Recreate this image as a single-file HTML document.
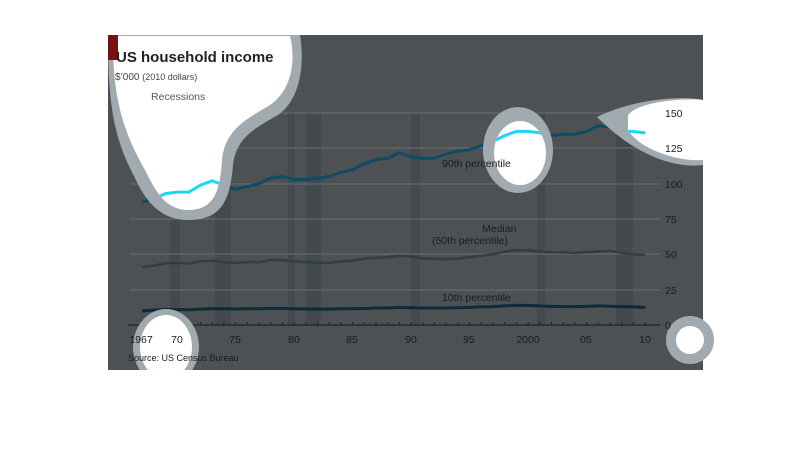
<!DOCTYPE html>
<html><head><meta charset="utf-8"><style>
html,body{margin:0;padding:0;background:#fff;}
svg{display:block;font-family:"Liberation Sans",sans-serif;}
</style></head><body>
<svg width="810" height="464" viewBox="0 0 810 464">
<defs>
<clipPath id="chart"><rect x="108" y="35" width="595" height="335"/></clipPath>
<clipPath id="blobs">
<path d="M113 36 L290 36 C296 60 292 90 270 105 C245 120 225 130 222 160 C220 190 215 210 188 210 C165 210 155 190 145 170 C125 135 112 100 113 36 Z"/>
<ellipse cx="520" cy="153" rx="26" ry="32"/>
<path d="M628 115 C640 100 690 98 703 100 L703 160 C680 162 640 150 628 130 Z"/>
<ellipse cx="166" cy="347" rx="26" ry="32"/>
</clipPath>
<g id="series">
<polyline vector-effect="non-scaling-stroke" points="0,87 1,89 2,93 3,94 4,94 5,99 6,102 7,99 8,96 9,98 10,100 11,104 12,105 13,103 14,103 15,104 16,105 17,108 18,110 19,114 20,117 21,118 22,122 23,119 24,118 25,118 26,121 27,123 28,124 29,127 30,130 31,134 32,137 33,137 34,136 35,134 36,135 37,135 38,137 39,141 40,140 41,137 42,137 43,136"/>
</g>
</defs>
<g clip-path="url(#chart)">
<rect x="108" y="35" width="595" height="335" fill="#4d5154"/>
<g fill="#424a50">
<rect x="170" y="113" width="10" height="212"/>
<rect x="215" y="113" width="16" height="212"/>
<rect x="288" y="113" width="7" height="212"/>
<rect x="306" y="113" width="15" height="212"/>
<rect x="411" y="113" width="9" height="212"/>
<rect x="537" y="113" width="8" height="212"/>
<rect x="616" y="113" width="17" height="212"/>
</g>
<g stroke="#6a6e70" stroke-width="1">
<line x1="130" y1="113" x2="660" y2="113"/>
<line x1="130" y1="148" x2="660" y2="148"/>
<line x1="130" y1="184" x2="660" y2="184"/>
<line x1="130" y1="219" x2="660" y2="219"/>
<line x1="130" y1="254" x2="660" y2="254"/>
<line x1="130" y1="290" x2="660" y2="290"/>
</g>
<line x1="128" y1="325" x2="660" y2="325" stroke="#222" stroke-width="1.2"/>
<g stroke="#222" stroke-width="1">
<path d="M142 325v-5M153.7 325v-3M165.4 325v-3M177.1 325v-3M188.8 325v-3M200.5 325v-3M212.2 325v-3M223.9 325v-3M235.6 325v-3M247.3 325v-3M259 325v-3M270.7 325v-3M282.4 325v-3M294.1 325v-3M305.8 325v-3M317.5 325v-3M329.2 325v-3M340.9 325v-3M352.6 325v-3M364.3 325v-3M376 325v-3M387.7 325v-3M399.4 325v-3M411.1 325v-3M422.8 325v-3M434.5 325v-3M446.2 325v-3M457.9 325v-3M469.6 325v-3M481.3 325v-3M493 325v-3M504.7 325v-3M516.4 325v-3M528.1 325v-3M539.8 325v-3M551.5 325v-3M563.2 325v-3M574.9 325v-3M586.6 325v-3M598.3 325v-3M610 325v-3M621.7 325v-3M633.4 325v-3M645.1 325v-3"/>
</g>
<g transform="translate(142 325) scale(11.7 -1.413)" fill="none" stroke-linejoin="round">
<use href="#series" stroke="#0f4a66" stroke-width="3"/>
<polyline vector-effect="non-scaling-stroke" stroke="#333d42" stroke-width="2.5" points="0,41 1,42 2,43.5 3,44 4,43.5 5,45 6,45.5 7,44.5 8,44 9,44.5 10,44.5 11,46 12,46 13,45 14,44.5 15,44 16,44 17,45 18,45.5 19,47 20,47.5 21,48 22,49 23,48.5 24,47 25,47 26,46.5 27,47 28,48 29,49 30,50 31,52 32,53 33,53 34,52 35,51.5 36,51.5 37,51 38,51.5 39,52 40,52.5 41,51 42,50 43,49.5"/>
<polyline vector-effect="non-scaling-stroke" stroke="#0c2a38" stroke-width="3" points="0,10 1,10.5 2,11 3,11 4,10.8 5,11.2 6,11.5 7,11.5 8,11.3 9,11.5 10,11.5 11,11.8 12,11.8 13,11.5 14,11.3 15,11.2 16,11.2 17,11.5 18,11.5 19,11.7 20,12 21,12 22,12.5 23,12.2 24,12 25,12 26,12 27,12.2 28,12.5 29,12.8 30,13 31,13.5 32,14 33,13.8 34,13.5 35,13.2 36,13 37,13 38,13.2 39,13.5 40,13.3 41,13 42,12.8 43,12.5"/>
</g>
<g fill="#a0aaaf">
<path d="M108 35 L300 35 C305 65 300 100 278 115 C255 128 236 138 233 165 C230 200 222 220 188 220 C160 220 145 200 135 178 C115 140 108 110 108 35 Z"/>
<ellipse cx="518" cy="150" rx="35" ry="43"/>
<path d="M597 117 C630 100 680 95 703 100 L703 165 C680 168 640 160 597 117 Z"/>
<ellipse cx="166" cy="347" rx="33" ry="38"/>
</g>
<g fill="#fff">
<path d="M113 36 L290 36 C296 60 292 90 270 105 C245 120 225 130 222 160 C220 190 215 210 188 210 C165 210 155 190 145 170 C125 135 112 100 113 36 Z"/>
<ellipse cx="520" cy="153" rx="26" ry="32"/>
<path d="M628 115 C640 100 690 98 703 100 L703 160 C680 162 640 150 628 130 Z"/>
<ellipse cx="166" cy="347" rx="26" ry="32"/>
</g>
<g clip-path="url(#blobs)">
<g transform="translate(142 325) scale(11.7 -1.413)" fill="none">
<use href="#series" stroke="#1ad8f5" stroke-width="3"/>
</g>
</g>
<rect x="108" y="35" width="10" height="25" fill="#7a1010"/>
</g>
<circle cx="690" cy="340" r="19" fill="#fff" stroke="#a0aaaf" stroke-width="10"/>
<text x="116" y="62" font-size="15" font-weight="bold" fill="#222">US household income</text>
<text x="115" y="80" font-size="10" fill="#444">$’000 <tspan font-size="9">(2010 dollars)</tspan></text>
<text x="151" y="100" font-size="10.5" fill="#556">Recessions</text>
<g font-size="10.5" fill="#1c1c1c">
<text x="442" y="167">90th percentile</text>
<text x="482" y="232">Median</text>
<text x="432" y="244">(50th percentile)</text>
<text x="442" y="301">10th percentile</text>
</g>
<g font-size="10.5" fill="#1c1c1c">
<text x="665" y="117">150</text>
<text x="665" y="152">125</text>
<text x="665" y="188">100</text>
<text x="665" y="223">75</text>
<text x="665" y="258">50</text>
<text x="665" y="294">25</text>
<text x="665" y="329">0</text>
</g>
<g font-size="10.5" fill="#1c1c1c" text-anchor="middle">
<text x="141" y="343">1967</text>
<text x="177" y="343">70</text>
<text x="235" y="343">75</text>
<text x="294" y="343">80</text>
<text x="352" y="343">85</text>
<text x="411" y="343">90</text>
<text x="469" y="343">95</text>
<text x="528" y="343">2000</text>
<text x="586" y="343">05</text>
<text x="645" y="343">10</text>
</g>
<text x="128" y="361" font-size="9" fill="#1c1c1c">Source: US Census Bureau</text>
</svg>
</body></html>
